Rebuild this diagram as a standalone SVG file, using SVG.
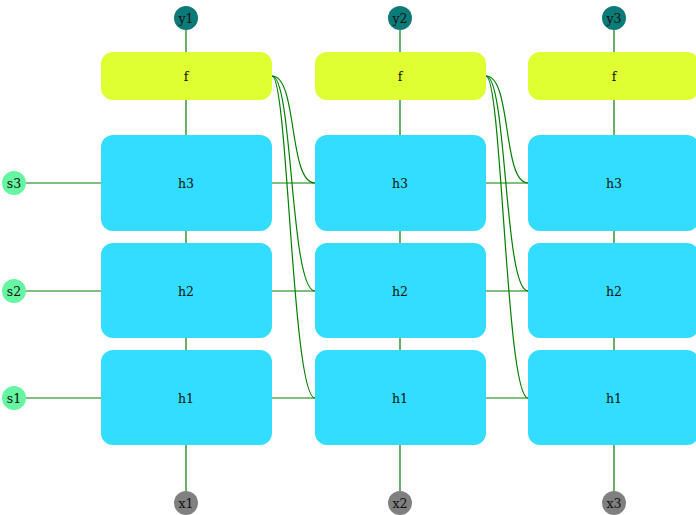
<svg xmlns="http://www.w3.org/2000/svg" width="696" height="515" viewBox="0 0 696 515">
  <style>
    text { font-family: "DejaVu Serif", "Liberation Serif", serif; font-size: 12.5px; fill: #111; text-anchor: middle; dominant-baseline: central; }
    .f { fill: #dfff33; }
    .h { fill: #33ddff; }
    .y { fill: #0a7b78; }
    .x { fill: #808080; }
    .s { fill: #66f5a0; }
    .e { stroke: #008000; stroke-width: 1.2; fill: none; }
  </style>
  <rect width="696" height="515" fill="#ffffff"/>

  <g id="edges">
    <!-- column 1 -->
    <path class="e" d="M186,30 V52 M186,100 V135 M186,231 V243 M186,338 V350 M186,445 V491"/>
    <!-- column 2 -->
    <path class="e" d="M400,30 V52 M400,100 V135 M400,231 V243 M400,338 V350 M400,445 V491"/>
    <!-- column 3 -->
    <path class="e" d="M614,30 V52 M614,100 V135 M614,231 V243 M614,338 V350 M614,445 V491"/>
    <!-- initial states -->
    <path class="e" d="M26,183 H101 M26,291 H101 M26,398 H101"/>
    <!-- recurrent state links -->
    <path class="e" d="M272,183 H315 M272,291 H315 M272,398 H315"/>
    <path class="e" d="M486,183 H528 M486,291 H528 M486,398 H528"/>
    <!-- feedback from f into next column -->
    <path class="e" d="M272,76 C298,76 288,183 315,183"/>
    <path class="e" d="M272,76 C293,76 290,291 315,291"/>
    <path class="e" d="M272,76 C288,76 292,398 315,398"/>
    <path class="e" d="M486,76 C512,76 502,183 528,183"/>
    <path class="e" d="M486,76 C507,76 504,291 528,291"/>
    <path class="e" d="M486,76 C502,76 506,398 528,398"/>
  </g>

  <g id="s3"><circle class="s" cx="14" cy="183" r="12"/><text x="14" y="183">s3</text></g>
  <g id="s2"><circle class="s" cx="14" cy="291" r="12"/><text x="14" y="291">s2</text></g>
  <g id="s1"><circle class="s" cx="14" cy="398" r="12"/><text x="14" y="398">s1</text></g>

  <g id="y1"><circle class="y" cx="186" cy="18" r="12"/><text x="186" y="18">y1</text></g>
  <g id="y2"><circle class="y" cx="400" cy="18" r="12"/><text x="400" y="18">y2</text></g>
  <g id="y3"><circle class="y" cx="614" cy="18" r="12"/><text x="614" y="18">y3</text></g>

  <g id="f1"><rect class="f" x="101" y="52" width="171" height="48" rx="12"/><text x="186" y="76">f</text></g>
  <g id="f2"><rect class="f" x="315" y="52" width="171" height="48" rx="12"/><text x="400" y="76">f</text></g>
  <g id="f3"><rect class="f" x="528" y="52" width="171" height="48" rx="12"/><text x="614" y="76">f</text></g>

  <g id="h3_1"><rect class="h" x="101" y="135" width="171" height="96" rx="12"/><text x="186" y="183">h3</text></g>
  <g id="h2_1"><rect class="h" x="101" y="243" width="171" height="95" rx="12"/><text x="186" y="291">h2</text></g>
  <g id="h1_1"><rect class="h" x="101" y="350" width="171" height="95" rx="12"/><text x="186" y="398">h1</text></g>

  <g id="h3_2"><rect class="h" x="315" y="135" width="171" height="96" rx="12"/><text x="400" y="183">h3</text></g>
  <g id="h2_2"><rect class="h" x="315" y="243" width="171" height="95" rx="12"/><text x="400" y="291">h2</text></g>
  <g id="h1_2"><rect class="h" x="315" y="350" width="171" height="95" rx="12"/><text x="400" y="398">h1</text></g>

  <g id="h3_3"><rect class="h" x="528" y="135" width="171" height="96" rx="12"/><text x="614" y="183">h3</text></g>
  <g id="h2_3"><rect class="h" x="528" y="243" width="171" height="95" rx="12"/><text x="614" y="291">h2</text></g>
  <g id="h1_3"><rect class="h" x="528" y="350" width="171" height="95" rx="12"/><text x="614" y="398">h1</text></g>

  <g id="x1"><circle class="x" cx="186" cy="503" r="12"/><text x="186" y="503">x1</text></g>
  <g id="x2"><circle class="x" cx="400" cy="503" r="12"/><text x="400" y="503">x2</text></g>
  <g id="x3"><circle class="x" cx="614" cy="503" r="12"/><text x="614" y="503">x3</text></g>
</svg>
